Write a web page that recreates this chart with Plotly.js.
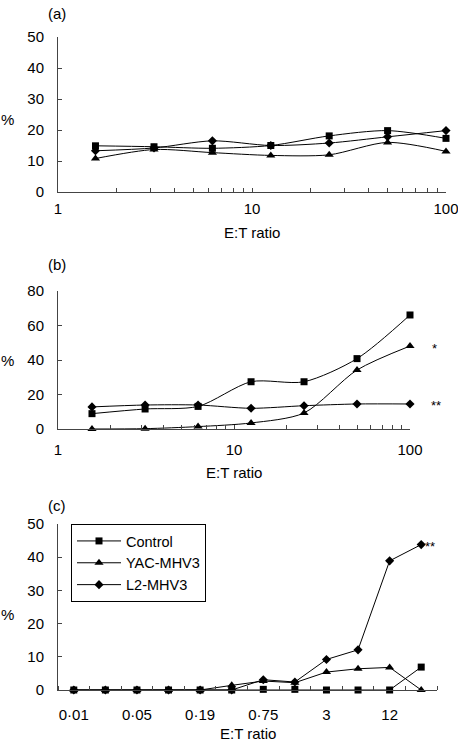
<!DOCTYPE html>
<html>
<head>
<meta charset="utf-8">
<script src="https://cdn.plot.ly/plotly-3.0.1.min.js"></script>
<style>html,body{margin:0;padding:0;background:#fff;}#chart{width:458px;height:742px;}</style>
</head>
<body>
<div id="chart"></div>
<script>
// ---- data ----
const ratioAB = [1.56, 3.125, 6.25, 12.5, 25, 50, 100];
const aControl = [14.9, 14.6, 14.1, 15.0, 18.1, 19.8, 17.3];
const aYAC     = [10.8, 13.7, 12.7, 11.8, 12.0, 16.0, 13.1];
const aL2      = [13.3, 14.2, 16.5, 15.0, 15.8, 17.8, 19.8];

const bControl = [8.9, 11.6, 13.1, 27.4, 27.4, 40.8, 66.1];
const bYAC     = [0.0, 0.2, 1.4, 3.5, 9.3, 34.2, 48.1];
const bL2      = [12.8, 13.9, 13.9, 12.0, 13.5, 14.5, 14.5];

const ratioC = ['0·01','0·02','0·05','0·09','0·19','0·38','0·75','1·5','3','6','12','25'];
const cControl = [0, 0, 0, 0, 0, 0, 0.2, 0.2, 0, 0, 0, 6.9];
const cYAC     = [0, 0, 0, 0, 0, 1.4, 2.7, 2.2, 5.4, 6.4, 6.8, 0];
const cL2      = [0, 0, 0, 0, 0, 0, 3.1, 2.4, 9.2, 12.1, 38.9, 43.8];
const cTickLabels = ['0·01','0·05','0·19','0·75','3','12'];

const logTickVals = [1,2,3,4,5,6,7,8,9,10,20,30,40,50,60,70,80,90,100];
const logTickText = ['1','','','','','','','','','10','','','','','','','','','100'];

const seriesNames = ['Control','YAC-MHV3','L2-MHV3'];
const symbols = ['square','triangle-up','diamond'];
const msize = [7, 8, 7];

// ---- build ----
const W = 458, H = 742;
const px = v => v / W;
const py = v => 1 - v / H;
const FONT = 'Liberation Sans, Arial, sans-serif';

const cIdx = ratioC.map((_, i) => i);
const cTickIdx = cTickLabels.map(l => ratioC.indexOf(l));

const traces = [];
function addSet(x, ys, xa, ya, shape, legend) {
  ys.forEach((y, k) => {
    traces.push({
      x: x, y: y, xaxis: xa, yaxis: ya, type: 'scatter', mode: 'lines+markers',
      name: seriesNames[k], showlegend: legend, cliponaxis: false,
      line: {color: '#000', width: 1, shape: shape, smoothing: 0.8},
      marker: {symbol: symbols[k], size: msize[k], color: '#000'}
    });
  });
}
addSet(ratioAB, [aControl, aYAC, aL2], 'x', 'y', 'spline', false);
addSet(ratioAB, [bControl, bYAC, bL2], 'x2', 'y2', 'spline', false);
addSet(cIdx, [cControl, cYAC, cL2], 'x3', 'y3', 'linear', true);

const axBase = {
  showline: true, linecolor: '#444', linewidth: 1, showgrid: false, zeroline: false,
  ticks: 'inside', ticklen: 4, tickcolor: '#444', tickwidth: 1, ticklabeloverflow: 'allow',
  tickfont: {family: FONT, size: 15, color: '#000'}, fixedrange: true
};

const layout = {
  width: W, height: H, margin: {l: 0, r: 0, t: 0, b: 0},
  paper_bgcolor: '#fff', plot_bgcolor: 'rgba(0,0,0,0)',
  font: {family: FONT, size: 15, color: '#000'},
  xaxis: Object.assign({}, axBase, {type: 'log', range: [0, 2], domain: [px(58), px(446)], anchor: 'y',
    tickmode: 'array', tickvals: logTickVals, ticktext: logTickText, ticklabelstandoff: 3}),
  yaxis: Object.assign({}, axBase, {range: [0, 50], dtick: 10, domain: [py(192), py(37)], anchor: 'x', ticklabelstandoff: 10}),
  xaxis2: Object.assign({}, axBase, {type: 'log', range: [0, 2], domain: [px(58), px(410)], anchor: 'y2',
    tickmode: 'array', tickvals: logTickVals, ticktext: logTickText, ticklabelstandoff: 7}),
  yaxis2: Object.assign({}, axBase, {range: [0, 80], dtick: 20, domain: [py(429), py(291)], anchor: 'x2', ticklabelstandoff: 10}),
  xaxis3: Object.assign({}, axBase, {range: [-0.5, cIdx.length - 0.5], domain: [px(58), px(437)], anchor: 'y3',
    tickmode: 'array', tickvals: cTickIdx, ticktext: cTickLabels, ticks: '', ticklabelstandoff: 11,
    minor: {tickmode: 'linear', tick0: 0.5, dtick: 1, ticks: 'inside', ticklen: 4, tickcolor: '#444', tickwidth: 1, showgrid: false}}),
  yaxis3: Object.assign({}, axBase, {range: [0, 50], dtick: 10, domain: [py(690), py(524)], anchor: 'x3', ticklabelstandoff: 10}),
  legend: {x: px(71), y: py(524), xanchor: 'left', yanchor: 'top', bgcolor: '#fff',
    bordercolor: '#000', borderwidth: 1, font: {family: FONT, size: 14.5, color: '#000'},
    itemwidth: 44, tracegroupgap: 0},
  showlegend: true,
  annotations: []
};

function paperText(text, x, y, size, xanchor) {
  layout.annotations.push({text: text, xref: 'paper', yref: 'paper', x: px(x), y: py(y),
    xanchor: xanchor || 'center', yanchor: 'middle', showarrow: false,
    font: {family: FONT, size: size || 15, color: '#000'}});
}
paperText('(a)', 57, 13);
paperText('(b)', 57, 264);
paperText('(c)', 57, 505);
paperText('%', 7, 120);
paperText('%', 7, 360);
paperText('%', 7, 614);
paperText('E:T ratio', 252, 232);
paperText('E:T ratio', 234, 472);
paperText('E:T ratio', 248, 733);

function starAt(xa, ya, x, y, txt, xshift) {
  layout.annotations.push({text: txt, xref: xa, yref: ya, x: x, y: y, xanchor: 'left', yanchor: 'middle',
    xshift: xshift, yshift: -2, showarrow: false, font: {family: FONT, size: 13, color: '#000'}});
}
const last = arr => arr[arr.length - 1];
starAt('x2', 'y2', Math.log10(last(ratioAB)), last(bYAC), '*', 20);
starAt('x2', 'y2', Math.log10(last(ratioAB)), last(bL2), '**', 19);
starAt('x3', 'y3', cIdx.length - 1, last(cL2), '**', 2);

Plotly.newPlot('chart', traces, layout, {staticPlot: true, displayModeBar: false});
</script>
</body>
</html>
